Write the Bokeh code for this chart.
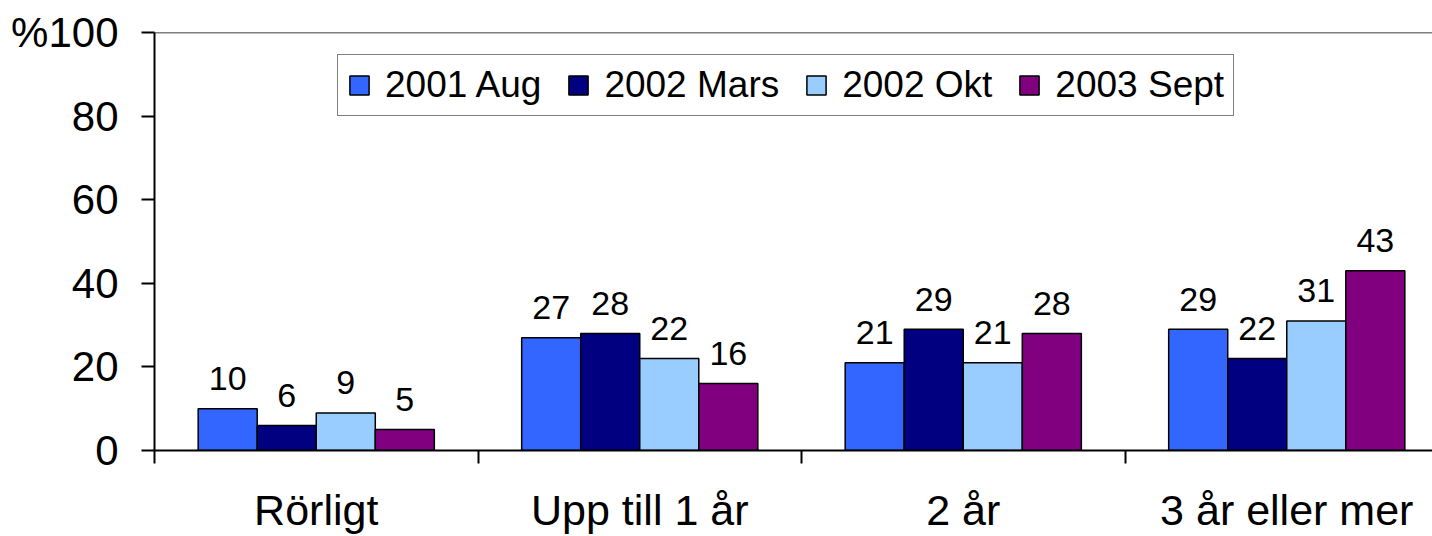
from bokeh.plotting import figure
from bokeh.models import (ColumnDataSource, Range1d, FixedTicker, Legend, LegendItem, Span)
from bokeh.core.properties import value
from bokeh.embed import file_html
from bokeh.resources import INLINE

categories = ["Rörligt", "Upp till 1 år", "2 år", "3 år eller mer"]
series_names = ["2001 Aug", "2002 Mars", "2002 Okt", "2003 Sept"]
aug_2001 = [10, 27, 21, 29]
mars_2002 = [6, 28, 29, 22]
okt_2002 = [9, 22, 21, 31]
sept_2003 = [5, 16, 28, 43]
series_values = [aug_2001, mars_2002, okt_2002, sept_2003]
colors = ["#3366FF", "#000080", "#99CCFF", "#800080"]
y_ticks = [0, 20, 40, 60, 80, 100]

FONT = "Liberation Sans"
bar_w = 0.1825

p = figure(width=1432, height=536, output_backend="svg", toolbar_location=None,
           x_range=Range1d(0, 3.9505), y_range=Range1d(0, 100),
           min_border_left=154, min_border_right=0, min_border_top=32, min_border_bottom=86)
p.outline_line_color = None
p.xgrid.visible = False
p.ygrid.visible = False
p.background_fill_color = "white"
p.border_fill_color = "white"

renderers = []
for j, (name, vals, col) in enumerate(zip(series_names, series_values, colors)):
    xs = [i + 0.5 + (j - 1.5) * bar_w for i in range(len(categories))]
    src = ColumnDataSource(dict(x=xs, top=vals, lbl=[str(v) for v in vals]))
    r = p.vbar(x="x", top="top", width=bar_w, bottom=0, source=src,
               fill_color=col, line_color="black", line_width=1.5)
    renderers.append(r)
    p.text(x="x", y="top", text="lbl", source=src, text_align="center",
           text_baseline="alphabetic", y_offset=-30, text_font=value(FONT),
           text_font_size="34px", text_color="black")

p.add_layout(Span(location=100, dimension="width", line_color="black", line_width=1.5))

# x axis
xa = p.xaxis[0]
xa.ticker = FixedTicker(ticks=[i + 0.5 for i in range(len(categories))],
                        minor_ticks=list(range(len(categories) + 1)))
xa.major_label_overrides = {i + 0.5: c for i, c in enumerate(categories)}
xa.major_tick_out = 0
xa.major_tick_in = 0
xa.minor_tick_out = 13
xa.minor_tick_in = 0
xa.minor_tick_line_color = "black"
xa.minor_tick_line_width = 2
xa.axis_line_color = "black"
xa.axis_line_width = 2
xa.major_label_standoff = 22
xa.major_label_text_font = FONT
xa.major_label_text_font_size = "43px"
xa.major_label_text_color = "black"

# y axis
ya = p.yaxis[0]
ya.ticker = FixedTicker(ticks=y_ticks, minor_ticks=[])
ya.major_label_overrides = {100: "%100"}
ya.major_tick_out = 13
ya.major_tick_in = 0
ya.major_tick_line_color = "black"
ya.major_tick_line_width = 2
ya.minor_tick_out = 0
ya.minor_tick_in = 0
ya.axis_line_color = "black"
ya.axis_line_width = 2
ya.major_label_standoff = 23
ya.major_label_text_font = FONT
ya.major_label_text_font_size = "42px"
ya.major_label_text_color = "black"

items = [LegendItem(label=n, renderers=[r]) for n, r in zip(series_names, renderers)]
legend = Legend(items=items, orientation="horizontal", location=(183, 334),
                label_text_font=FONT, label_text_font_size="37px", label_text_color="black",
                glyph_width=24, glyph_height=24, label_standoff=14, spacing=25,
                padding=9, margin=0, border_line_color="black", border_line_width=1.5,
                background_fill_color="white", background_fill_alpha=1.0, label_height=24)
p.add_layout(legend, "center")

open("out.html", "w").write(file_html(p, INLINE))
